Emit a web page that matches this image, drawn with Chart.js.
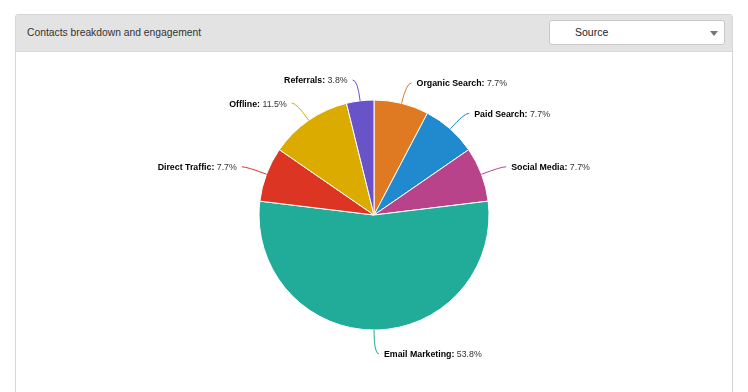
<!DOCTYPE html>
<html>
<head>
<meta charset="utf-8">
<script src="https://cdn.jsdelivr.net/npm/chart.js@4"></script>
<style>
  html, body { margin: 0; padding: 0; background: #fff; width: 748px; height: 392px; overflow: hidden; }
  body { font-family: "Liberation Sans", Arial, sans-serif; position: relative; }
  .panel { position: absolute; left: 15px; top: 14px; width: 716px; height: 420px;
           border: 1px solid #d6d6d6; border-radius: 3px; background: #fff; }
  .panel-head { height: 36px; background: #e3e3e3; border-bottom: 1px solid #d9d9d9; position: relative; }
  .panel-title { position: absolute; left: 11px; top: 12px; font-size: 10.3px; color: #333; }
  .select { position: absolute; left: 533px; top: 5px; width: 174px; height: 23px; background: #fff;
            border: 1px solid #c9c9c9; border-radius: 3px; }
  .select span { position: absolute; left: 25px; top: 5px; font-size: 10.5px; color: #222; }
  .select i { position: absolute; right: 6px; top: 10px; width: 0; height: 0;
              border-left: 4px solid transparent; border-right: 4px solid transparent; border-top: 5px solid #777; }
  #sourcePie { position: absolute; left: 0; top: 0; }
</style>
</head>
<body>
<div class="panel">
  <div class="panel-head">
    <div class="panel-title">Contacts breakdown and engagement</div>
    <div class="select"><span>Source</span><i></i></div>
  </div>
</div>
<canvas id="sourcePie" width="748" height="392"></canvas>
<script>
const sources = ['Organic Search', 'Paid Search', 'Social Media', 'Email Marketing', 'Direct Traffic', 'Offline', 'Referrals'];
const contacts = [2, 2, 2, 14, 2, 3, 1];
const sliceColors = ['#e07a22', '#2189cd', '#b8438a', '#21ab99', '#dc3523', '#dcab00', '#6953c9'];

const total = contacts.reduce((a, b) => a + b, 0);
const labelFont = '8.8px "Liberation Sans", Arial, sans-serif';

// outside labels with curved connectors, highcharts style
const outsideLabels = {
    id: 'outsideLabels',
    afterDatasetsDraw(chart) {
        const ctx = chart.ctx;
        const meta = chart.getDatasetMeta(0);
        ctx.save();
        meta.data.forEach((arc, i) => {
            const p = arc.getProps(['x', 'y', 'startAngle', 'endAngle', 'outerRadius'], true);
            const mid = (p.startAngle + p.endAngle) / 2;
            const ex = p.x + Math.cos(mid) * p.outerRadius;
            const ey = p.y + Math.sin(mid) * p.outerRadius;
            const ax = p.x + Math.cos(mid) * (p.outerRadius + 21);
            const ay = p.y + Math.sin(mid) * (p.outerRadius + 21) + Math.max(0, Math.sin(mid)) * 3;
            const dir = ax >= p.x - 0.5 ? 1 : -1;
            const endX = ax + dir * 5;

            ctx.strokeStyle = sliceColors[i];
            ctx.lineWidth = 1;
            ctx.beginPath();
            ctx.moveTo(ex, ey);
            ctx.quadraticCurveTo(ax, ay, endX, ay);
            ctx.stroke();

            const name = sources[i] + ':';
            const pct = ' ' + (contacts[i] / total * 100).toFixed(1) + '%';
            ctx.textBaseline = 'middle';
            ctx.font = 'bold ' + labelFont;
            const w1 = ctx.measureText(name).width;
            ctx.font = labelFont;
            const w2 = ctx.measureText(pct).width;
            let tx = dir > 0 ? endX + 5 : endX - 5 - w1 - w2;
            ctx.font = 'bold ' + labelFont;
            ctx.fillStyle = '#000';
            ctx.textAlign = 'left';
            ctx.fillText(name, tx, ay + 1);
            ctx.font = labelFont;
            ctx.fillStyle = '#333';
            ctx.fillText(pct, tx + w1, ay + 1);
        });
        ctx.restore();
    }
};

new Chart(document.getElementById('sourcePie'), {
    type: 'pie',
    data: {
        labels: sources,
        datasets: [{
            data: contacts,
            backgroundColor: sliceColors,
            borderColor: '#ffffff',
            borderWidth: 1,
            radius: 115
        }]
    },
    options: {
        responsive: false,
        animation: false,
        layout: { padding: { top: 60, bottom: 22, left: 0, right: 0 } },
        plugins: {
            legend: { display: false },
            tooltip: { enabled: false }
        }
    },
    plugins: [outsideLabels]
});
</script>
</body>
</html>
